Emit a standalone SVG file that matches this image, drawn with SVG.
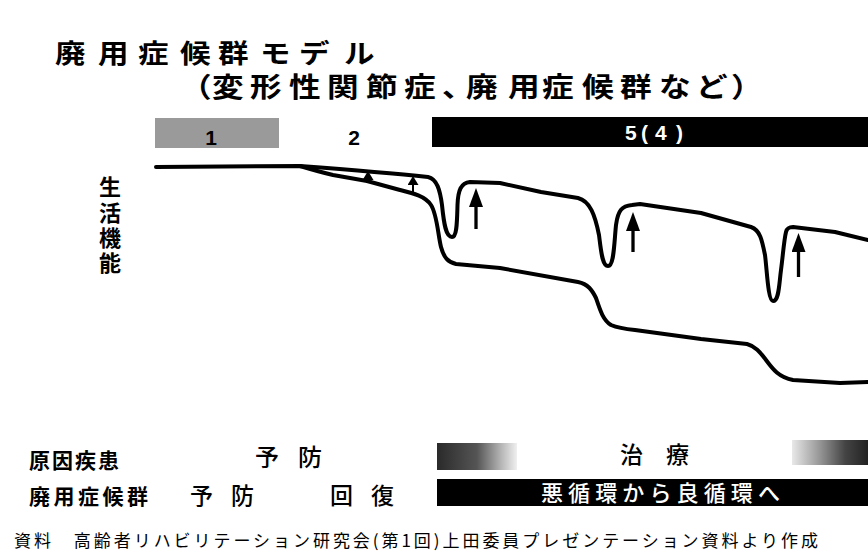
<svg xmlns="http://www.w3.org/2000/svg" width="868" height="559" viewBox="0 0 868 559">
<style>
.jp{font-family:"Noto Sans CJK JP","Noto Sans CJK SC",sans-serif;fill:#000}
.b{font-weight:700}
.m{font-weight:500}
.w{fill:#fff}
.num{font-family:"Liberation Sans",Arial,sans-serif;font-weight:700;font-size:21px}
.curve{fill:none;stroke:#000;stroke-width:4;stroke-linejoin:round;stroke-linecap:round}
.big{stroke:#000;stroke-width:3.3;fill:none}
.small{stroke:#000;stroke-width:2;fill:none}
</style>
<defs>
<marker id="headBig" viewBox="0 0 19 14" refX="6" refY="7" markerWidth="19" markerHeight="14" markerUnits="userSpaceOnUse" orient="auto">
<path d="M0,0 L19,7 L0,14 Z" fill="#000"/>
</marker>
<marker id="headSmall" viewBox="0 0 9 11" refX="3" refY="5.5" markerWidth="9" markerHeight="11" markerUnits="userSpaceOnUse" orient="auto">
<path d="M0,0 L9,5.5 L0,11 Z" fill="#000"/>
</marker>
<linearGradient id="gL" x1="0" y1="0" x2="1" y2="0">
<stop offset="0" stop-color="#2a2a2a"/>
<stop offset="0.5" stop-color="#555"/>
<stop offset="0.8" stop-color="#b5b5b5"/>
<stop offset="1" stop-color="#f0f0f0"/>
</linearGradient>
<linearGradient id="gR" x1="0" y1="0" x2="1" y2="0">
<stop offset="0" stop-color="#e8e8e8"/>
<stop offset="0.35" stop-color="#9a9a9a"/>
<stop offset="0.7" stop-color="#444"/>
<stop offset="1" stop-color="#222"/>
</linearGradient>
</defs>
<rect width="868" height="559" fill="#fff"/>

<g id="title">
<text class="jp b" transform="scale(1.15 1)"><tspan font-size="26.5" y="63" x="47.8 85.2 120 156.5 189.6 226.1 260 299.1">廃用症候群モデル</tspan><tspan font-size="27.5" y="97" x="156.5 184.3 217.4 251.3 284.3 318.3 351.3 384.3 405.2 441.7 471.3 506.1 539.1 573 605.2 635.7">（変形性関節症、廃用症候群など）</tspan></text>
</g>

<g id="phase1">
<rect x="155" y="118" width="124" height="30" fill="#9a9a9a"/>
<text class="num" x="211" y="145" text-anchor="middle">1</text>
</g>
<g id="phase2">
<text class="num" x="354" y="145" text-anchor="middle">2</text>
</g>
<g id="phase5">
<rect x="432" y="117" width="436" height="30" fill="#000"/>
<text class="num w" font-size="23" y="140" x="625 641 655 676">5(4)</text>
</g>

<g id="ylabel">
<text class="jp b" font-size="22" x="110" y="176" writing-mode="vertical-rl" letter-spacing="3.3">生活機能</text>
</g>

<g id="curves">
<path id="upper" class="curve" d="M156,167 L300,166 C340,169 400,174 428,177 C437,179 440,190 442,205 C444,225 446,237 452,237 C457,237 457,222 457.5,205 C458,190 461,183 470,182 L500,183 L541,192 L578,198 C590,201 595,215 599,235 C601,250 602,266 608,266 C614,266 614,245 616,225 C618,210 622,206 632,205 L640,204 L701,213 L751,227 C760,230 762,240 765,255 C767,270 768,301 773,301 C779,301 779,285 781,270 C783,255 784,240 786,232 C787,228 789,227 793,227 L835,232 L868,240"/>
<path id="lower" class="curve" d="M300,166 C310,169 320,172 333,175 L367,181 L400,190 C412,193 425,196 431,205 C437,214 438,235 441,247 C444,258 448,262 456,264 L500,268 L578,282 C588,284 592,290 596,298 C600,310 603,320 611,325 C618,328 625,329 635,330 L701,339 L747,344 C755,346 760,352 766,360 C772,368 778,377 793,380 L840,383 L868,382"/>
</g>

<g id="connectors">
<line class="small" x1="368" y1="181" x2="368" y2="177" marker-end="url(#headSmall)"/>
<line class="small" x1="413" y1="193" x2="413" y2="182" marker-end="url(#headSmall)"/>
<line class="big" x1="476" y1="229" x2="476" y2="201" marker-end="url(#headBig)"/>
<line class="big" x1="633" y1="252" x2="633" y2="225" marker-end="url(#headBig)"/>
<line class="big" x1="798.5" y1="277" x2="798.5" y2="246" marker-end="url(#headBig)"/>
</g>

<g id="row1">
<text class="jp b" font-size="21" x="29" y="468" textLength="90" lengthAdjust="spacing">原因疾患</text>
<text class="jp m" font-size="24" y="466" x="255 298">予防</text>
<rect x="437" y="443" width="80" height="27" fill="url(#gL)"/>
<text class="jp m" font-size="23" y="463" x="620 666">治療</text>
<rect x="792" y="440" width="76" height="25" fill="url(#gR)"/>
</g>
<g id="row2">
<text class="jp b" font-size="21" x="29" y="504" textLength="119" lengthAdjust="spacing">廃用症候群</text>
<text class="jp m" font-size="23" y="504" x="190 231">予防</text>
<text class="jp m" font-size="23" y="504" x="330 371">回復</text>
<rect x="437" y="479" width="431" height="27" fill="#000"/>
<text class="jp m w" font-size="22" x="541" y="501" textLength="239" lengthAdjust="spacing">悪循環から良循環へ</text>
</g>

<g id="footer">
<text class="jp" font-size="17" x="14" y="547" textLength="804" lengthAdjust="spacing">資料　高齢者リハビリテーション研究会(第1回)上田委員プレゼンテーション資料より作成</text>
</g>
</svg>
